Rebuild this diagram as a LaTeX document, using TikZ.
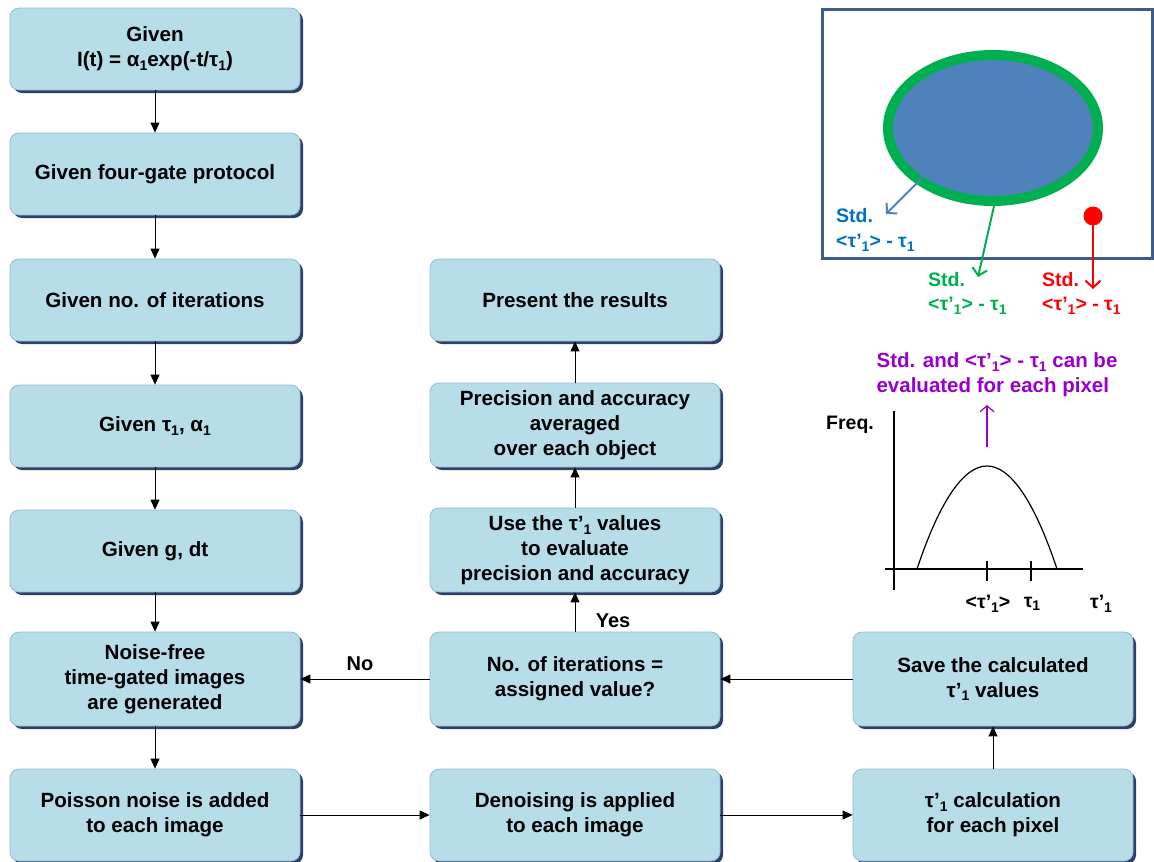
\documentclass[tikz,border=0pt]{standalone}
\usepackage{fontspec}
\setmainfont{Liberation Sans}
\usetikzlibrary{arrows.meta,shadows,shapes.geometric}
\definecolor{boxfill}{RGB}{183,221,232}
\definecolor{boxline}{RGB}{150,185,215}
\definecolor{shade}{RGB}{45,65,100}
\definecolor{frame}{RGB}{60,90,140}
\definecolor{ellfill}{RGB}{79,129,189}
\definecolor{ellring}{RGB}{0,176,80}
\definecolor{bluetxt}{RGB}{0,112,192}
\definecolor{greentxt}{RGB}{0,176,80}
\definecolor{redtxt}{RGB}{255,0,0}
\definecolor{purp}{RGB}{153,0,204}
\newcommand\sbs[1]{\raisebox{-0.35ex}{\fontsize{14}{14}\selectfont#1}}
\newcommand\tp{τ’\sbs{1}}
\newcommand\tn{τ\sbs{1}}
\tikzset{
  flowbox/.style={rectangle, rounded corners=9pt, fill=boxfill, draw=boxline, line width=0.8pt,
    align=center, font=\fontsize{20.6}{25}\selectfont\bfseries, inner sep=2pt,
    drop shadow={shadow xshift=3pt, shadow yshift=-3pt, fill=shade, opacity=1}},
  wide/.style={minimum width=290pt},
  narrow/.style={minimum width=280pt},
  lbl/.style={font=\fontsize{20}{24}\selectfont\bfseries, inner sep=0pt},
  small/.style={font=\fontsize{19.5}{26}\selectfont\bfseries, inner sep=0pt, align=left},
  conn/.style={line width=0.9pt, -{Triangle[length=10pt,width=9pt]}},
  barb/.style={line width=2pt, -{Straight Barb[length=7pt,width=15pt]}}
}
\begin{document}
\begin{tikzpicture}[x=1pt,y=-1pt]
\useasboundingbox (0,0) rectangle (1154,862);
% column 1
\node[flowbox,wide,minimum height=82pt] (a1) at (155,49) {Given\\ I(t) = α\sbs{1}exp(-t/\tn)};
\node[flowbox,wide,minimum height=82pt] (a2) at (155,174) {Given four-gate protocol};
\node[flowbox,wide,minimum height=82pt] (a3) at (155,300) {Given no. of iterations};
\node[flowbox,wide,minimum height=82pt] (a4) at (155,426) {Given \tn, α\sbs{1}};
\node[flowbox,wide,minimum height=82pt] (a5) at (155,551) {Given g, dt};
\node[flowbox,wide,minimum height=94pt] (a6) at (155,679) {Noise-free\\ time-gated images\\ are generated};
\node[flowbox,wide,minimum height=92pt] (a7) at (155,815) {Poisson noise is added\\ to each image};
% column 2
\node[flowbox,wide,minimum height=82pt] (b3) at (575,300) {Present the results};
\node[flowbox,wide,minimum height=84pt] (b4) at (575,425) {Precision and accuracy\\ averaged\\ over each object};
\node[flowbox,wide,minimum height=84pt] (b5) at (575,550) {Use the \tp{} values\\ to evaluate\\ precision and accuracy};
\node[flowbox,wide,minimum height=94pt] (b6) at (575,679) {No. of iterations =\\ assigned value?};
\node[flowbox,wide,minimum height=92pt] (b7) at (575,815) {Denoising is applied\\ to each image};
% column 3
\node[flowbox,narrow,minimum height=94pt] (c6) at (993,679) {Save the calculated\\ \tp{} values};
\node[flowbox,narrow,minimum height=92pt] (c7) at (993,815) {\tp{} calculation\\ for each pixel};
% connectors
\draw[conn] (a1) -- (a2);
\draw[conn] (a2) -- (a3);
\draw[conn] (a3) -- (a4);
\draw[conn] (a4) -- (a5);
\draw[conn] (a5) -- (a6);
\draw[conn] (a6) -- (a7);
\draw[conn] (a7) -- (b7);
\draw[conn] (b7) -- (c7);
\draw[conn] (c7) -- (c6);
\draw[conn] (c6) -- (b6);
\draw[conn] (b6) -- (a6);
\draw[conn] (b6) -- (b5);
\draw[conn] (b5) -- (b4);
\draw[conn] (b4) -- (b3);
\node[lbl] (no) at (360,664) {No};
\node[lbl] (yes) at (613,621) {Yes};
% top-right panel
\draw[frame, line width=3pt] (822,9) rectangle (1152,258);
\node[ellipse, draw=ellring, fill=ellfill, line width=10pt, minimum width=210pt, minimum height=146pt, inner sep=0pt] (ell) at (993,128) {};
\coordinate (bs) at (923,177);
\coordinate (be) at (886,214);
\draw[barb, ellfill] (bs) -- (be);
\node[small, text=bluetxt, anchor=west] (bt1) at (836,216) {Std.};
\node[small, text=bluetxt, anchor=west] (bt2) at (836,243) {<\tp> - \tn};
\coordinate (gs) at (994,206);
\coordinate (ge) at (978,277);
\draw[barb, ellring] (gs) -- (ge);
\node[small, text=greentxt, anchor=west] (gt1) at (928,280) {Std.};
\node[small, text=greentxt, anchor=west] (gt2) at (928,306) {<\tp> - \tn};
\node[circle, fill=redtxt, minimum size=19pt, inner sep=0pt] (dot) at (1093,216) {};
\coordinate (re) at (1093,289);
\draw[barb, redtxt] (dot.center) -- (re);
\node[small, text=redtxt, anchor=west] (rt1) at (1042,280) {Std.};
\node[small, text=redtxt, anchor=west] (rt2) at (1042,306) {<\tp> - \tn};
% histogram
\node[font=\fontsize{20.5}{25}\selectfont\bfseries, text=purp, align=left, inner sep=0pt] (pt) at (997,375) {Std. and <\tp> - \tn{} can be\\ evaluated for each pixel};
\coordinate (ps) at (987,447);
\coordinate (pe) at (987,405);
\draw[purp, line width=1.2pt, -{Straight Barb[length=6pt,width=14pt]}] (ps) -- (pe);
\draw[line width=2pt] (894,411) -- (894,590);
\draw[line width=1.3pt] (885,569) -- (1083,569);
\draw[line width=1.2pt] (917,569) .. controls (940,500) and (964,466) .. (987,466) .. controls (1010,466) and (1034,500) .. (1057,569);
\draw[line width=1.3pt] (987,561) -- (987,581);
\draw[line width=1.3pt] (1031,561) -- (1031,581);
\node[small] (fq) at (850,425) {Freq.};
\node[small] (l1) at (988,604) {<\tp>};
\node[small] (l2) at (1032,604) {\tn};
\node[small] (l3) at (1101,604) {\tp};
\end{tikzpicture}
\end{document}
